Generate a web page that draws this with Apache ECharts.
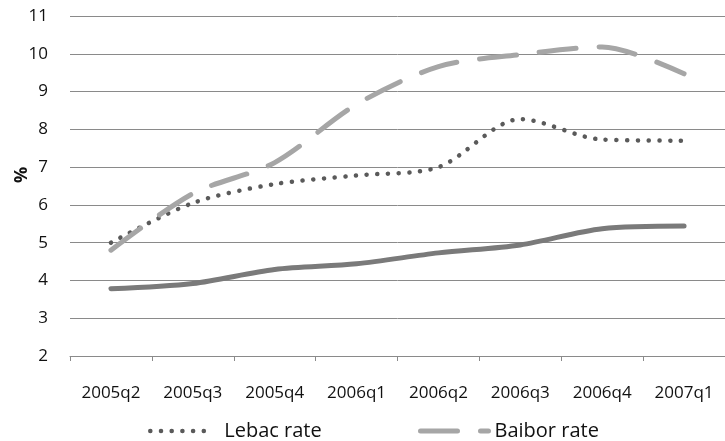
<!DOCTYPE html>
<html>
<head>
<meta charset="utf-8">
<script src="https://cdn.jsdelivr.net/npm/echarts@6/dist/echarts.min.js"></script>
<style>html,body{margin:0;padding:0;background:#fff}#c{width:725px;height:441px}</style>
</head>
<body>
<div id="c"></div>
<script>
const categories = ['2005q2','2005q3','2005q4','2006q1','2006q2','2006q3','2006q4','2007q1'];
const lebacRate = [5.00, 6.05, 6.55, 6.78, 7.00, 8.27, 7.73, 7.70];
const baiborRate = [4.80, 6.30, 7.12, 8.66, 9.66, 9.98, 10.18, 9.47];
const thirdSeries = [3.78, 3.92, 4.29, 4.44, 4.73, 4.94, 5.37, 5.44];
const yTicks = {min: 2, max: 11, step: 1};

const chart = echarts.init(document.getElementById('c'), null, {renderer: 'canvas'});
const font = 'Open Sans';
const lebacLine = {color: '#5a5a5a', width: 4.5, type: [0.1, 10.6], cap: 'round'};
const baiborLine = {color: '#a6a6a6', width: 5, type: [37, 23], cap: 'round'};
chart.setOption({
  animation: false,
  backgroundColor: '#ffffff',
  grid: {left: 70, top: 16, bottom: 85, width: 666.7, containLabel: false},
  xAxis: {
    type: 'category',
    data: categories,
    boundaryGap: true,
    axisLine: {show: true, lineStyle: {color: '#8a8a8a', width: 1}},
    axisTick: {show: true, length: 5, lineStyle: {color: '#8a8a8a'}},
    axisLabel: {color: '#111', fontFamily: font, fontSize: 17, margin: 29}
  },
  yAxis: {
    type: 'value',
    min: yTicks.min, max: yTicks.max, interval: yTicks.step,
    axisLine: {show: false},
    axisTick: {show: false},
    axisLabel: {color: '#111', fontFamily: font, fontSize: 17, margin: 22},
    splitLine: {show: true, lineStyle: {color: '#8a8a8a', width: 1}}
  },
  legend: [
    {
      data: ['Lebac rate'], left: 148, top: 421, padding: 0, itemWidth: 62, itemHeight: 14,
      itemStyle: {opacity: 0}, lineStyle: lebacLine,
      textStyle: {fontFamily: font, fontSize: 20, color: '#111', padding: [0,0,0,7]}
    },
    {
      data: ['Baibor rate'], left: 418, top: 421, padding: 0, itemWidth: 68, itemHeight: 14,
      itemStyle: {opacity: 0}, lineStyle: baiborLine,
      textStyle: {fontFamily: font, fontSize: 20, color: '#111', padding: [0,0,0,1]}
    }
  ],
  graphic: [{
    type: 'text', x: 22, y: 175, rotation: Math.PI / 2,
    style: {text: '%', font: 'bold 18px "Open Sans"', fill: '#111', align: 'center', verticalAlign: 'middle'}
  }],
  series: [
    {
      name: 'Lebac rate', type: 'line', data: lebacRate, smooth: 0.3,
      symbol: 'none', color: '#5a5a5a', lineStyle: lebacLine
    },
    {
      name: 'Baibor rate', type: 'line', data: baiborRate, smooth: 0.3,
      symbol: 'none', color: '#a6a6a6', lineStyle: baiborLine
    },
    {
      name: 'Third series', type: 'line', data: thirdSeries, smooth: 0.3,
      symbol: 'none', color: '#7a7a7a',
      lineStyle: {color: '#7a7a7a', width: 5, type: 'solid', cap: 'round'}
    }
  ]
});
</script>
</body>
</html>
